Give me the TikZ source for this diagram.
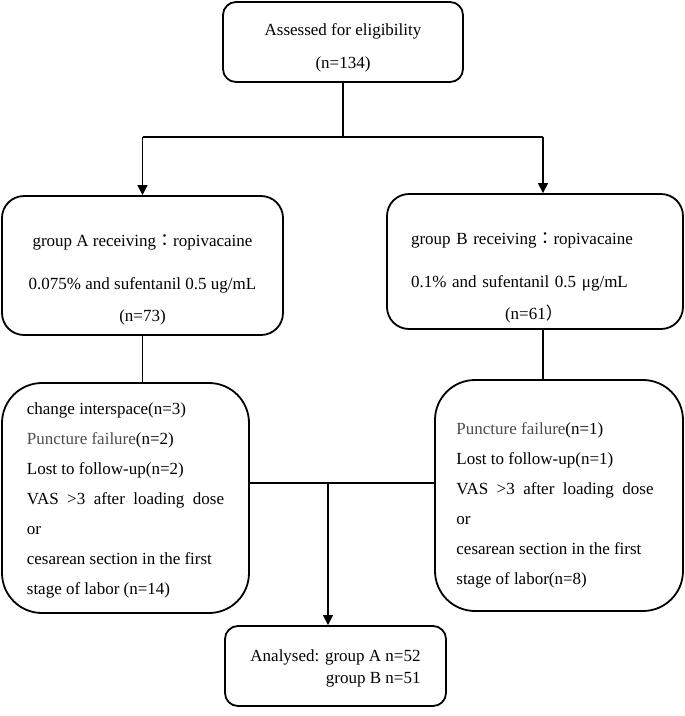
\documentclass[tikz,border=0pt]{standalone}
\usepackage{fontspec}
\setmainfont{Liberation Serif}
\newfontfamily\cjk{Noto Sans CJK TC}
\usetikzlibrary{arrows.meta}
\begin{document}
\begin{tikzpicture}[x=1pt, y=-1pt,
    box/.style={draw, line width=1.8pt, inner sep=0pt},
    txt/.style={inner sep=0pt, font=\fontsize{17}{30}\selectfont},
    link/.style={line width=1.1pt},
    arr/.style={link, -{Triangle[length=10pt, width=10pt]}}]
  \useasboundingbox (0,0) rectangle (685,716);
  % boxes
  \node (assess) [box, rounded corners=13, minimum width=240, minimum height=80] at (343,42) {};
  \node (grpA) [box, rounded corners=22, minimum width=281, minimum height=139] at (142.5,265.5) {};
  \node (grpB) [box, rounded corners=22, minimum width=296, minimum height=135] at (535,261.5) {};
  \node (exclA) [box, rounded corners=40, minimum width=247, minimum height=230] at (125.5,498) {};
  \node (exclB) [box, rounded corners=40, minimum width=248, minimum height=231] at (559,495.5) {};
  \node (done) [box, rounded corners=13, minimum width=221, minimum height=80] at (335.5,666) {};
  % texts
  \node (assesstxt) [txt, align=center, font=\fontsize{17}{33}\selectfont] at ([yshift=-6pt]assess.center)
        {Assessed for eligibility\\(n=134)};
  \node (grpAtxt) [txt, align=center, font=\fontsize{17}{32}\selectfont] at ([yshift=-14pt]grpA.center)
        {group A receiving{\cjk ：}ropivacaine\\[11pt]0.075\% and sufentanil 0.5 ug/mL\\(n=73)};
  \node (grpBtxt) [txt, text width=248pt, align=left, font=\fontsize{17}{32}\selectfont] at ([yshift=-16pt]grpB.center)
        {group B receiving{\cjk ：}ropivacaine\\[11pt]0.1\% and sufentanil 0.5 μg/mL\\\hspace*{94pt}(n=61{\cjk ）}};
  \node (exclAtxt) [txt, align=left] at ([yshift=-2pt]exclA.center)
        {change interspace(n=3)\\\textcolor{black!70}{Puncture failure}(n=2)\\Lost to follow-up(n=2)\\VAS \ >3 \ after \ loading \ dose\\or\\cesarean section in the first\\stage of labor (n=14)};
  \node (exclBtxt) [txt, align=left] at ([xshift=-4pt, yshift=-10pt]exclB.center)
        {\textcolor{black!70}{Puncture failure}(n=1)\\Lost to follow-up(n=1)\\VAS \ >3 \ after \ loading \ dose\\or\\cesarean section in the first\\stage of labor(n=8)};
  \node (donetxt) [txt, align=right, font=\fontsize{17}{22}\selectfont] at ([yshift=-2pt]done.center)
        {Analysed: group A n=52\\group B n=51};
  % connectors
  \coordinate (split) at (343,137);
  \coordinate (splitB) at (543,137);
  \coordinate (join) at (328,483);
  \draw[link] (assess.south) -- (split);
  \draw[link] (split -| grpA.north) -- (splitB);
  \draw[arr] (split -| grpA.north) -- (grpA.north);
  \draw[arr] (splitB) -- (splitB |- grpB.north);
  \draw[link] (grpA.south) -- (grpA.south |- exclA.north);
  \draw[link] (splitB |- grpB.south) -- (splitB |- exclB.north);
  \draw[link] (exclA.east |- join) -- (exclB.west |- join);
  \draw[arr] (join) -- (join |- done.north);
\end{tikzpicture}
\end{document}
